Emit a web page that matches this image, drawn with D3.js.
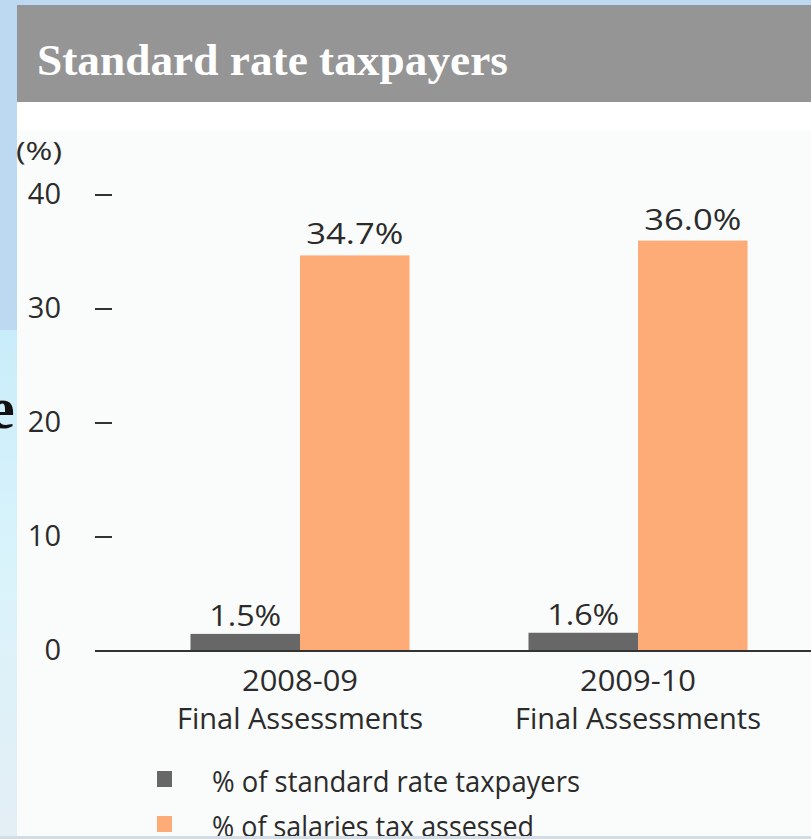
<!DOCTYPE html>
<html>
<head>
<meta charset="utf-8">
<script src="https://cdn.jsdelivr.net/npm/d3@7"></script>
<style>
  html, body { margin: 0; padding: 0; background: #fff; }
  svg { display: block; }
</style>
</head>
<body>
<svg id="chart" width="811" height="839"></svg>
<script>
// ---- data ----
const categories = ["2008-09", "2009-10"];
const categorySubLabels = ["Final Assessments", "Final Assessments"];
const seriesNames = ["% of standard rate taxpayers", "% of salaries tax assessed"];
const standardRateTaxpayers = [1.5, 1.6];
const salariesTaxAssessed = [34.7, 36.0];
const yTicks = [0, 10, 20, 30, 40];
const titleText = "Standard rate taxpayers";
const unitLabel = "(%)";

const seriesValues = [standardRateTaxpayers, salariesTaxAssessed];
const colors = ["#676767", "#fdac78"];
const rows = categories.map((c, i) => ({ cat: c, sub: categorySubLabels[i], vals: seriesValues.map(s => s[i]) }));

const svg = d3.select("#chart");
const W = 811, H = 839;

// ---- background (slide) ----
const defs = svg.append("defs");
const g1 = defs.append("linearGradient").attr("id", "sky").attr("x1", 0).attr("y1", 0).attr("x2", 0).attr("y2", 1);
g1.append("stop").attr("offset", "0%").attr("stop-color", "#c9ecfa");
g1.append("stop").attr("offset", "45%").attr("stop-color", "#d9f3fb");
g1.append("stop").attr("offset", "100%").attr("stop-color", "#e4eef5");
svg.append("rect").attr("x", 0).attr("y", 0).attr("width", W).attr("height", H).attr("fill", "#bdd8f1");
svg.append("rect").attr("x", 0).attr("y", 330).attr("width", 17).attr("height", H - 330).attr("fill", "url(#sky)");
// clipped glyph from slide behind
svg.append("text").attr("x", -12).attr("y", 428).attr("font-family", "Liberation Serif, serif")
  .attr("font-weight", "bold").attr("font-size", 60).attr("fill", "#111").text("e");

// ---- panel ----
svg.append("rect").attr("x", 17).attr("y", 102).attr("width", W - 17).attr("height", 734).attr("fill", "#ffffff");
svg.append("rect").attr("x", 17).attr("y", 130).attr("width", W - 17).attr("height", 706).attr("fill", "#fafbfb");
svg.append("rect").attr("x", 17).attr("y", 5).attr("width", W - 17).attr("height", 97).attr("fill", "#959595");
svg.append("text").attr("x", 37).attr("y", 75)
  .attr("font-family", "Liberation Serif, serif").attr("font-weight", "bold").attr("font-size", 44)
  .attr("fill", "#ffffff").attr("textLength", 471).attr("lengthAdjust", "spacingAndGlyphs")
  .text(titleText);

// ---- scales ----
const x = d3.scaleBand().domain(categories).range([71.5, 866.5]).padding(0.352);
const xs = d3.scaleBand().domain(seriesNames).range([0, x.bandwidth()]).padding(0);
const y = d3.scaleLinear().domain([0, 40]).range([651, 195]);

const font = "'Open Sans', sans-serif";
const textColor = "#2b2b2b";

// unit label
svg.append("text").attr("x", 16).attr("y", 160).attr("font-family", font).attr("font-size", 26)
  .attr("fill", textColor).attr("textLength", 46).attr("lengthAdjust", "spacingAndGlyphs").text(unitLabel);

// y axis ticks
const yAxis = d3.axisLeft(y).tickValues(yTicks).tickSize(0).tickPadding(0);
const yg = svg.append("g").attr("transform", "translate(61,0)").call(yAxis);
yg.select(".domain").remove();
yg.selectAll("text").attr("font-family", font).attr("font-size", 29).attr("fill", textColor)
  .attr("dy", "0.3em");
svg.append("g").selectAll("line").data(yTicks.filter(t => t > 0)).join("line")
  .attr("x1", 95).attr("x2", 112).attr("y1", d => y(d)).attr("y2", d => y(d))
  .attr("stroke", "#333").attr("stroke-width", 2);

// bars
const groups = svg.append("g").selectAll("g").data(rows).join("g")
  .attr("transform", d => `translate(${x(d.cat)},0)`);
groups.selectAll("rect").data(d => d.vals.map((v, j) => ({ v, s: seriesNames[j], j }))).join("rect")
  .attr("x", d => xs(d.s)).attr("width", xs.bandwidth())
  .attr("y", d => y(d.v)).attr("height", d => y(0) - y(d.v))
  .attr("fill", d => colors[d.j]);

// value labels
groups.selectAll("text.val").data(d => d.vals.map((v, j) => ({ v, s: seriesNames[j], j }))).join("text")
  .attr("class", "val")
  .attr("x", d => xs(d.s) + xs.bandwidth() / 2)
  .attr("y", d => y(d.v) - (d.j === 0 ? 8 : 11))
  .attr("text-anchor", "middle").attr("font-family", font).attr("font-size", 30).attr("fill", textColor)
  .attr("textLength", d => d.j === 0 ? 72 : 97).attr("lengthAdjust", "spacingAndGlyphs")
  .text(d => d.v.toFixed(1) + "%");

// baseline
svg.append("line").attr("x1", 95).attr("x2", W).attr("y1", y(0)).attr("y2", y(0))
  .attr("stroke", "#333").attr("stroke-width", 2);

// x labels
const xl = svg.append("g").selectAll("g").data(rows).join("g")
  .attr("transform", d => `translate(${x(d.cat) + x.bandwidth() / 2},0)`);
xl.append("text").attr("y", 691).attr("text-anchor", "middle").attr("font-family", font)
  .attr("font-size", 30).attr("fill", textColor).attr("textLength", 116).attr("lengthAdjust", "spacingAndGlyphs")
  .text(d => d.cat);
xl.append("text").attr("y", 729).attr("text-anchor", "middle").attr("font-family", font)
  .attr("font-size", 30).attr("fill", textColor).attr("textLength", 246).attr("lengthAdjust", "spacingAndGlyphs")
  .text(d => d.sub);

// legend
const lg = svg.append("g").selectAll("g").data(seriesNames).join("g")
  .attr("transform", (d, i) => `translate(157,${771 + i * 45})`);
lg.append("rect").attr("width", 15).attr("height", 16).attr("fill", (d, i) => colors[i]);
lg.append("text").attr("x", 55).attr("y", 21).attr("font-family", font).attr("font-size", 29)
  .attr("fill", textColor).attr("textLength", (d, i) => i === 0 ? 368 : 322).attr("lengthAdjust", "spacingAndGlyphs")
  .text(d => d);

// bottom strip of slide
svg.append("rect").attr("x", 0).attr("y", 836).attr("width", W).attr("height", 3).attr("fill", "#d3dde6");
</script>
</body>
</html>
